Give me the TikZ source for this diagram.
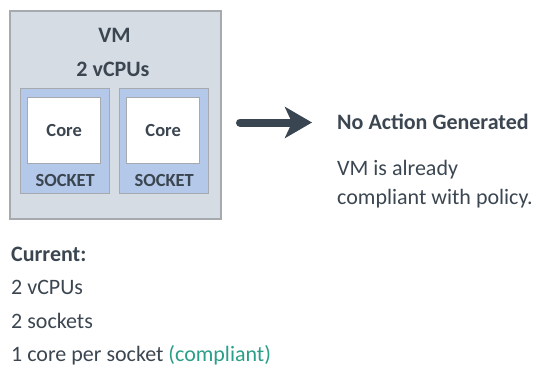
\documentclass[tikz,border=0pt]{standalone}
\usepackage{fontspec}
\setmainfont{Carlito}
\usepackage{xcolor}
\usetikzlibrary{arrows.meta}

\definecolor{vmfill}{HTML}{D6DCE4}
\definecolor{socketfill}{HTML}{B4C9EA}
\definecolor{boxline}{HTML}{A6A9AD}
\definecolor{inkdark}{HTML}{3B4651}
\definecolor{arrowink}{HTML}{394652}
\definecolor{okgreen}{HTML}{2A9F88}

\tikzset{
  vmbox/.style={draw=boxline, fill=vmfill, line width=1.6pt, anchor=north west,
    minimum width=211pt, minimum height=208pt, inner sep=0pt},
  socketbox/.style={draw=boxline, fill=socketfill, line width=1.4pt, anchor=north west,
    minimum width=89pt, minimum height=105pt, inner sep=0pt},
  corebox/.style={draw=boxline, fill=white, line width=1.4pt, anchor=north west,
    minimum width=73pt, minimum height=66pt, inner sep=0pt, text=inkdark,
    font=\fontsize{18.5}{22}\selectfont\bfseries},
  boldlabel/.style={inner sep=0pt, text=inkdark, font=\fontsize{22}{26}\selectfont\bfseries},
  smalllabel/.style={inner sep=0pt, text=inkdark, font=\fontsize{18.5}{22}\selectfont\bfseries},
  plainlabel/.style={inner sep=0pt, text=inkdark, font=\fontsize{22}{26}\selectfont},
  flowarrow/.style={draw=arrowink, line width=8pt, line cap=round,
    -{Stealth[length=27pt, width=31pt, inset=7pt]}}
}

\begin{document}
\begin{tikzpicture}[x=1pt, y=-1pt]
    \useasboundingbox (0,0) rectangle (535,367);
    % virtual machine with two sockets
    \node[vmbox] (vm) at (9,10) {};
    \node[boldlabel, anchor=base] (vmname) at (114.5,42) {VM};
    \node[boldlabel, anchor=base] (vmcpus) at (113,76) {2 vCPUs};
    \node[socketbox] (sock1) at (20,88) {};
    \node[socketbox] (sock2) at (119,88) {};
    \node[corebox] (core1) at (27,97) {Core};
    \node[corebox] (core2) at (126,97) {Core};
    \node[smalllabel, anchor=base] (sock1label) at ([yshift=8pt]sock1.south) {SOCKET};
    \node[smalllabel, anchor=base] (sock2label) at ([yshift=8pt]sock2.south) {SOCKET};
    % result
    \coordinate (arrowstart) at (240,122.5);
    \coordinate (arrowend) at (312,122.5);
    \draw[flowarrow] (arrowstart) -- (arrowend);
    \node[boldlabel, anchor=base west] (result) at (337,129.5) {No Action Generated};
    \node[plainlabel, anchor=base west] (reason1) at (337,175) {VM is already};
    \node[plainlabel, anchor=base west] (reason2) at (337,204) {compliant with policy.};
    % current settings
    \node[boldlabel, anchor=base west] (current) at (11,261.5) {Current:};
    \node[plainlabel, anchor=base west] (curcpus) at (11,294.5) {2 vCPUs};
    \node[plainlabel, anchor=base west] (cursockets) at (11,328) {2 sockets};
    \node[plainlabel, anchor=base west] (curcores) at (11,361) {1 core per socket \textcolor{okgreen}{(compliant)}};
\end{tikzpicture}
\end{document}
